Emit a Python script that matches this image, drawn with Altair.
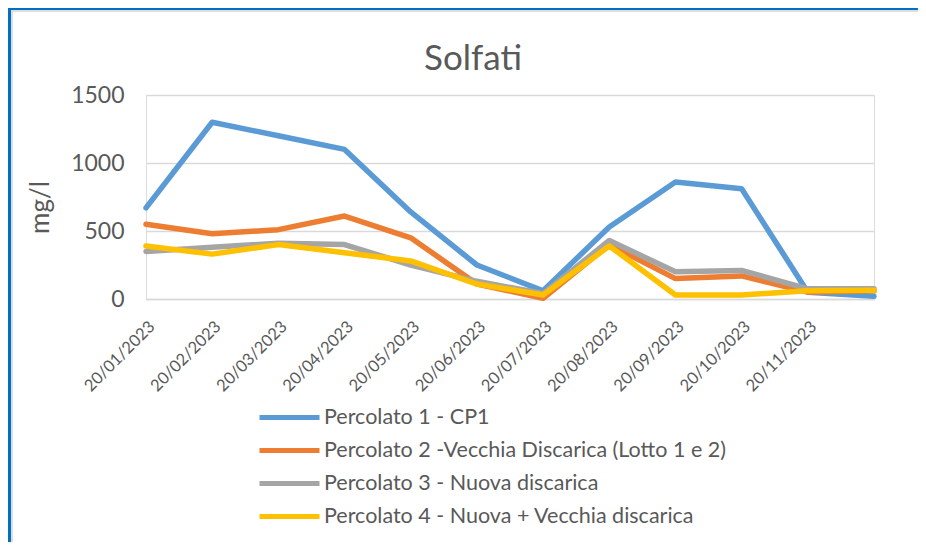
import altair as alt
import pandas as pd

dates = ["20/01/2023", "20/02/2023", "20/03/2023", "20/04/2023", "20/05/2023",
         "20/06/2023", "20/07/2023", "20/08/2023", "20/09/2023", "20/10/2023",
         "20/11/2023", " "]
series_names = [
    "Percolato 1 - CP1",
    "Percolato 2 -Vecchia Discarica (Lotto 1 e 2)",
    "Percolato 3 - Nuova discarica",
    "Percolato 4 - Nuova + Vecchia discarica",
]
p1 = [670, 1300, 1200, 1100, 640, 250, 60, 530, 860, 810, 50, 20]
p2 = [550, 480, 510, 610, 450, 110, 5, 400, 150, 170, 50, 60]
p3 = [350, 380, 410, 400, 250, 130, 40, 430, 200, 210, 75, 75]
p4 = [390, 330, 400, 340, 280, 110, 30, 390, 30, 30, 60, 65]
colors = ["#5B9BD5", "#ED7D31", "#A5A5A5", "#FFC000"]
chart_title = "Solfati"

rows = []
for name, vals in zip(series_names, [p1, p2, p3, p4]):
    for d, v in zip(dates, vals):
        rows.append({"Data": d, "Serie": name, "Valore": v})
df = pd.DataFrame(rows)

FONT = "Lato"
TXT = "#595959"

lines = alt.Chart(df).mark_line(strokeWidth=5.5, strokeJoin="round", strokeCap="round").encode(
    x=alt.X("Data:O", sort=dates, scale=alt.Scale(padding=0),
            axis=alt.Axis(title=None, labelAngle=-45, labelFontSize=16.5, labelColor=TXT,
                          labelFont=FONT, ticks=False, domainColor="#D9D9D9",
                          domainWidth=1.5, labelPadding=19, grid=False)),
    y=alt.Y("Valore:Q", scale=alt.Scale(domain=[0, 1500], nice=False),
            axis=alt.Axis(title="mg/l", values=[0, 500, 1000, 1500], format="d",
                          labelFontSize=23, labelColor=TXT, labelFont=FONT,
                          titleFontSize=26, titleColor=TXT, titleFont=FONT,
                          titleFontWeight="normal", titleX=-106, titleY=112,
                          titleAngle=-90, titleBaseline="middle", titleAlign="center",
                          ticks=False, domain=False, gridColor="#D9D9D9",
                          gridWidth=1.5, labelPadding=22)),
    color=alt.Color("Serie:N", sort=series_names,
                    scale=alt.Scale(domain=series_names, range=colors),
                    legend=alt.Legend(title=None, orient="none", legendX=131, legendY=310,
                                      symbolType="M-3,0H3", symbolSize=400,
                                      symbolStrokeWidth=5, symbolStrokeColor=None,
                                      labelFontSize=21.5, symbolFillColor=None,
                                      labelColor=TXT, labelFont=FONT, labelOffset=22,
                                      rowPadding=10, labelLimit=600)),
    order=alt.Order("Serie:N"),
)

title_text = alt.Chart(pd.DataFrame({"t": [chart_title]})).mark_text(
    font=FONT, fontSize=35, color=TXT, align="center", baseline="alphabetic"
).encode(text="t:N", x=alt.value(327), y=alt.value(-25))

frame_blue_top = alt.Chart(df).mark_rule(color="#0070C0", strokeWidth=4).encode(
    x=alt.value(-139), x2=alt.value(780), y=alt.value(-87))
frame_blue_left = alt.Chart(df).mark_rule(color="#0070C0", strokeWidth=4).encode(
    x=alt.value(-137), y=alt.value(-89), y2=alt.value(460))
frame_gray_top = alt.Chart(df).mark_rule(color="#DDDDDD", strokeWidth=2).encode(
    x=alt.value(-135), x2=alt.value(780), y=alt.value(-84))
frame_gray_left = alt.Chart(df).mark_rule(color="#DDDDDD", strokeWidth=2).encode(
    x=alt.value(-134), y=alt.value(-84), y2=alt.value(460))

chart = alt.layer(lines, title_text, frame_blue_top, frame_blue_left,
                  frame_gray_top, frame_gray_left).properties(
    width=728, height=204,
    autosize=alt.AutoSizeParams(type="none"),
    padding={"left": 138, "top": 87, "right": 44, "bottom": 243},
).configure_view(stroke=None).configure(background="white")

chart.save("out.html", embed_options={"renderer": "svg", "actions": False})
